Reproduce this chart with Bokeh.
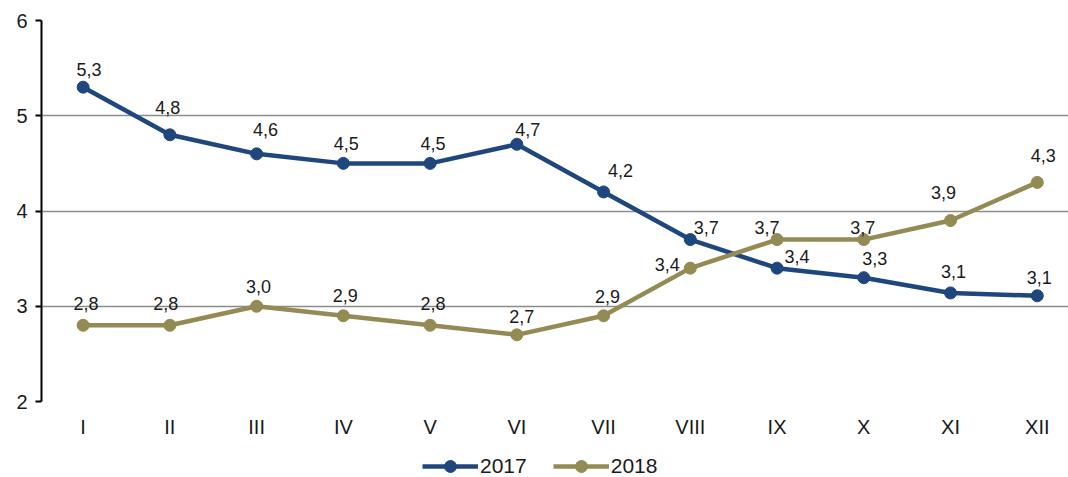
from bokeh.plotting import figure
from bokeh.layouts import column
from bokeh.models import ColumnDataSource, LabelSet, Legend, LegendItem, FixedTicker, Range1d
from bokeh.core.properties import value
from bokeh.embed import file_html
from bokeh.resources import INLINE

months = ["I", "II", "III", "IV", "V", "VI", "VII", "VIII", "IX", "X", "XI", "XII"]
y2017 = [5.3, 4.8, 4.6, 4.5, 4.5, 4.7, 4.2, 3.7, 3.4, 3.3, 3.14, 3.11]
y2018 = [2.8, 2.8, 3.0, 2.9, 2.8, 2.7, 2.9, 3.4, 3.7, 3.7, 3.9, 4.3]
y_ticks = [2, 3, 4, 5, 6]
series_names = ["2017", "2018"]

# data-label placement (screen-pixel nudges, as in the original chart)
lbl_dx_2017 = [6, -2, 9, 3, 3, 11, 17, 16, 20, 11, 3, 2]
lbl_dy_2017 = [18, 27, 24, 20, 20, 15, 21, 12, 12, 19, 21, 18]
lbl_dx_2018 = [3, -4, 2, 2, 3, 5, 4, -23, -10, -1, -7, 6]
lbl_dy_2018 = [22, 22, 20, 20, 22, 18, 19, 4, 12, 12, 28, 27]

c2017 = "#1f477d"
c2018 = "#948a54"
FONT = "Liberation Sans"

x = list(range(len(months)))

p = figure(width=1068, height=440, output_backend="svg", toolbar_location=None,
           x_range=Range1d(-0.48, 11.36), y_range=Range1d(2, 6),
           min_border_left=41, min_border_right=0, min_border_top=20, min_border_bottom=39)
p.outline_line_color = None
p.background_fill_color = "white"
p.border_fill_color = "white"

p.xgrid.grid_line_color = None
p.ygrid.grid_line_color = "#8c8c8c"
p.ygrid.grid_line_width = 1.5
p.yaxis.ticker = FixedTicker(ticks=y_ticks)
p.xaxis.ticker = FixedTicker(ticks=x)
p.xaxis.major_label_overrides = {i: m for i, m in enumerate(months)}

p.xaxis.axis_line_color = None
p.xaxis.major_tick_line_color = None
p.xaxis.minor_tick_line_color = None
p.xaxis.major_label_text_font = FONT
p.xaxis.major_label_text_font_size = "20px"
p.xaxis.major_label_text_color = "#1a1a1a"
p.xaxis.major_label_standoff = 8

p.yaxis.axis_line_color = "black"
p.yaxis.axis_line_width = 2
p.yaxis.major_tick_line_color = "black"
p.yaxis.major_tick_line_width = 2
p.yaxis.major_tick_in = 0
p.yaxis.major_tick_out = 6
p.yaxis.minor_tick_line_color = None
p.yaxis.major_label_text_font = FONT
p.yaxis.major_label_text_font_size = "20px"
p.yaxis.major_label_text_color = "#1a1a1a"
p.yaxis.major_label_standoff = 8

def fmt(v):
    return f"{v:.1f}".replace(".", ",")

# legend strip below the chart (its y-range holds no data, so only the legend shows)
lg = figure(width=1068, height=37, output_backend="svg", toolbar_location=None,
            x_range=Range1d(-0.48, 11.36), y_range=Range1d(0, 1),
            x_axis_location=None, y_axis_location=None,
            min_border_left=41, min_border_right=0, min_border_top=0, min_border_bottom=0)
lg.outline_line_color = None
lg.grid.visible = False

items = []
for ys, dx, dy, col, name in [(y2017, lbl_dx_2017, lbl_dy_2017, c2017, series_names[0]),
                              (y2018, lbl_dx_2018, lbl_dy_2018, c2018, series_names[1])]:
    src = ColumnDataSource(dict(x=x, y=ys, lbl=[fmt(v) for v in ys], dx=dx, dy=dy))
    p.line("x", "y", source=src, line_color=col, line_width=4.5)
    p.scatter("x", "y", source=src, size=12, fill_color=col, line_color=col)
    labels = LabelSet(x="x", y="y", text="lbl", source=src, x_offset="dx", y_offset="dy",
                      text_align="center", text_baseline="middle",
                      text_font=value(FONT), text_font_size=value("18px"), text_color="#1a1a1a")
    p.add_layout(labels)
    l2 = lg.line("x", "y", source=src, line_color=col, line_width=4.5)
    c2 = lg.scatter("x", "y", source=src, size=12, fill_color=col, line_color=col)
    items.append(LegendItem(label=name, renderers=[l2, c2]))

legend = Legend(items=items, orientation="horizontal", location=(381, -4),
                label_text_font=FONT, label_text_font_size="21px", label_text_color="#1a1a1a",
                glyph_width=56, glyph_height=30, spacing=26, label_standoff=2,
                border_line_color=None, background_fill_alpha=0, margin=0, padding=0)
lg.add_layout(legend, "center")

layout = column(p, lg, spacing=0)
open("out.html", "w").write(file_html(layout, INLINE))
